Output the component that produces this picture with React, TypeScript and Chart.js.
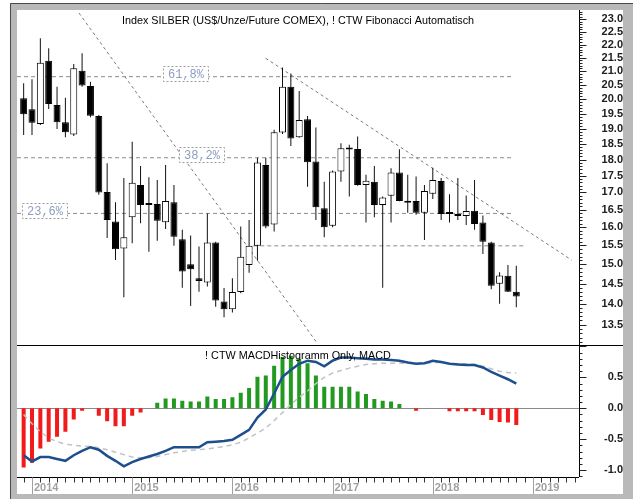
import { useEffect, useRef } from 'react';
import { Chart, registerables } from 'chart.js';

Chart.register(...registerables);

const W = 633;
const H = 499;
const FONT = "'Liberation Sans', Arial, sans-serif";

// month index of first candle (Jan 2014 = 0, so Dec 2013 = -1)
const firstMonth = -1;

const openP = [20.03, 19.65, 19.15, 21.39, 19.8, 19.21, 18.81, 21.02, 20.47, 19.42, 17.01, 16.16, 15.42, 16.28, 17.22, 16.68, 16.66, 16.14, 16.71, 15.67, 15.0, 14.64, 14.53, 15.58, 14.06, 13.87, 14.29, 14.98, 15.49, 17.83, 16.08, 18.87, 20.44, 18.72, 19.31, 17.94, 16.54, 16.04, 17.63, 18.34, 18.34, 17.22, 17.32, 16.63, 16.9, 17.6, 16.75, 16.75, 16.41, 16.96, 17.34, 16.4, 16.37, 16.32, 16.47, 16.13, 15.58, 14.5, 14.7, 14.3];
const highP = [20.56, 20.71, 22.24, 21.86, 20.44, 20.05, 21.27, 21.67, 20.62, 19.46, 17.89, 16.71, 17.43, 18.57, 17.8, 17.46, 17.37, 17.83, 17.22, 15.93, 15.77, 15.47, 16.39, 15.6, 14.39, 14.64, 16.02, 16.2, 18.06, 18.06, 18.96, 21.14, 20.92, 20.29, 19.42, 19.04, 17.32, 17.66, 18.52, 18.47, 18.74, 17.53, 17.8, 16.88, 17.73, 18.33, 17.53, 17.48, 17.22, 17.75, 17.43, 16.95, 17.43, 16.91, 17.37, 16.33, 15.6, 14.79, 14.98, 14.96];
const lowP = [18.79, 18.79, 19.12, 19.66, 18.99, 18.72, 18.76, 20.44, 19.38, 16.93, 15.7, 15.11, 14.16, 15.56, 16.11, 15.33, 15.63, 15.95, 15.49, 14.4, 13.95, 14.3, 14.43, 13.93, 13.68, 13.79, 14.26, 14.78, 15.09, 15.97, 15.88, 18.82, 18.43, 18.7, 17.17, 16.2, 15.72, 16.0, 17.32, 16.88, 17.2, 16.13, 16.28, 14.4, 16.13, 16.74, 16.41, 16.35, 15.65, 16.81, 16.2, 16.13, 16.2, 16.06, 15.93, 15.27, 14.36, 14.0, 14.29, 13.92];
const closeP = [19.48, 19.2, 21.31, 19.83, 19.21, 18.88, 21.11, 20.48, 19.43, 17.0, 16.2, 15.4, 15.72, 17.29, 16.63, 16.63, 16.18, 16.75, 15.74, 14.81, 14.87, 14.57, 15.58, 14.08, 13.87, 14.29, 15.2, 15.49, 17.91, 16.02, 18.88, 20.44, 18.68, 19.29, 17.92, 16.57, 16.0, 17.63, 18.36, 18.32, 17.22, 17.35, 16.63, 16.85, 17.6, 16.75, 16.7, 16.41, 17.04, 17.37, 16.37, 16.37, 16.32, 16.46, 16.09, 15.6, 14.45, 14.71, 14.3, 14.18];

const macdHist = [-0.96, -0.88, -0.65, -0.54, -0.46, -0.38, -0.18, -0.04, 0, -0.12, -0.21, -0.29, -0.29, -0.12, -0.07, 0, 0.09, 0.16, 0.16, 0.12, 0.11, 0.11, 0.19, 0.15, 0.15, 0.18, 0.25, 0.33, 0.51, 0.53, 0.69, 0.83, 0.85, 0.8, 0.73, 0.53, 0.35, 0.35, 0.35, 0.35, 0.27, 0.23, 0.15, 0.12, 0.11, 0.07, 0, -0.04, 0, 0, 0, -0.05, -0.05, -0.05, -0.05, -0.11, -0.19, -0.22, -0.23, -0.27];
const macdLine = [-0.76, -0.86, -0.79, -0.79, -0.82, -0.85, -0.76, -0.69, -0.63, -0.67, -0.77, -0.85, -0.94, -0.87, -0.82, -0.78, -0.74, -0.69, -0.63, -0.63, -0.63, -0.63, -0.55, -0.54, -0.53, -0.51, -0.43, -0.35, -0.15, -0.02, 0.24, 0.51, 0.62, 0.72, 0.77, 0.75, 0.68, 0.77, 0.82, 0.82, 0.81, 0.8, 0.79, 0.79, 0.78, 0.77, 0.74, 0.72, 0.73, 0.77, 0.75, 0.72, 0.71, 0.7, 0.7, 0.66, 0.59, 0.53, 0.47, 0.4];
const macdSignal = [-0.1, -0.25, -0.38, -0.48, -0.54, -0.58, -0.6, -0.61, -0.62, -0.64, -0.67, -0.71, -0.75, -0.79, -0.8, -0.8, -0.78, -0.75, -0.72, -0.7, -0.68, -0.67, -0.66, -0.64, -0.62, -0.59, -0.55, -0.48, -0.4, -0.32, -0.2, -0.07, 0.06, 0.18, 0.28, 0.4, 0.5, 0.57, 0.61, 0.65, 0.68, 0.71, 0.72, 0.73, 0.73, 0.73, 0.73, 0.73, 0.73, 0.74, 0.74, 0.73, 0.72, 0.72, 0.71, 0.68, 0.64, 0.6, 0.58, 0.57];

const yearLabels = ['2014', '2015', '2016', '2017', '2018', '2019'];
const priceTicks = [13.5, 14.0, 14.5, 15.0, 15.5, 16.0, 16.5, 17.0, 17.5, 18.0, 18.5, 19.0, 19.5, 20.0, 20.5, 21.0, 21.5, 22.0, 22.5, 23.0];
const macdTicks = [-1.0, -0.5, 0.0, 0.5];

const fibLevels = [20.8, 18.06, 16.39];
const fibNames = ['61,8%', '38,2%', '23,6%'];
const fibEndMonth = 57.5;
const supportLevel = 15.49;
const supportRange = [26.5, 59.0];
// trend lines: [month, price] pairs
const trendA = [[5.63, 23.24], [34.13, 13.08]];
const trendB = [[27.98, 21.48], [64.63, 15.11]];

const titleMain = 'Index SILBER (US$/Unze/Future COMEX), ! CTW Fibonacci Automatisch';
const titleMacd = '! CTW MACDHistogramm Only, MACD';

const X_MIN = -1.796;
const X_MAX = 65.51;
// label-box anchors (month units) for the fibonacci tags
const fibLabelMonth = [15.72, 17.6, -1.14];

const decor = {
  id: 'decor',
  beforeDraw(chart: any) {
    const { ctx, chartArea: a } = chart;
    ctx.save();
    ctx.fillStyle = '#ffffff';
    ctx.fillRect(0, 0, W, H);
    ctx.fillStyle = '#b9b9b9';
    ctx.fillRect(10, 3, W - 10, H - 3);
    ctx.fillStyle = '#ffffff';
    ctx.fillRect(a.left, a.top, a.right + 44 - a.left, 494 - a.top);
    ctx.strokeStyle = '#4a4a4a';
    ctx.lineWidth = 1;
    ctx.beginPath();
    ctx.moveTo(10.5, H);
    ctx.lineTo(10.5, 3.5);
    ctx.lineTo(W, 3.5);
    ctx.stroke();
    ctx.restore();
  },
  beforeDatasetsDraw(chart: any) {
    const { ctx, chartArea: a, scales } = chart;
    const y2 = scales.y2;
    const zy = Math.round(y2.getPixelForValue(0)) + 0.5;
    ctx.save();
    ctx.strokeStyle = '#8a8a8a';
    ctx.lineWidth = 1;
    ctx.beginPath();
    ctx.moveTo(a.left, zy);
    ctx.lineTo(a.right, zy);
    ctx.stroke();
    ctx.restore();
  },
  afterDatasetsDraw(chart: any) {
    const { ctx, scales } = chart;
    const x = scales.x, y = scales.y;
    ctx.save();
    fibLevels.forEach((lv, i) => {
      const py = y.getPixelForValue(lv);
      const px = x.getPixelForValue(fibLabelMonth[i]);
      const bx = Math.round(px) + 0.5;
      const by = Math.round(py - 10.5) + 0.5;
      const bw = 45, bh = 15;
      ctx.fillStyle = '#ffffff';
      ctx.fillRect(bx, by, bw, bh);
      ctx.setLineDash([2, 2]);
      ctx.strokeStyle = '#9a9a9a';
      ctx.lineWidth = 1;
      ctx.strokeRect(bx, by, bw, bh);
      ctx.setLineDash([]);
      ctx.fillStyle = '#8d9dc0';
      ctx.font = "12px 'Liberation Mono', monospace";
      ctx.textAlign = 'center';
      ctx.textBaseline = 'middle';
      ctx.fillText(fibNames[i], bx + bw / 2, by + bh / 2 + 0.5);
    });
    ctx.restore();
  },
  afterDraw(chart: any) {
    const { ctx, chartArea: a, scales } = chart;
    const x = scales.x, y = scales.y, y2 = scales.y2;
    ctx.save();
    ctx.lineWidth = 1;
    ctx.strokeStyle = '#000000';
    const line = (x1: number, y1: number, x2: number, y2_: number) => {
      ctx.beginPath();
      ctx.moveTo(x1, y1);
      ctx.lineTo(x2, y2_);
      ctx.stroke();
    };
    const rx = Math.round(a.right) + 0.5;
    line(rx, a.top, rx, a.bottom);
    const sep = Math.floor(y.bottom) + 0.5;
    line(a.left, sep, a.right + 44, sep);
    const bx = Math.round(a.bottom) + 0.5;
    line(a.left, bx, a.right, bx);

    // price axis ticks
    ctx.strokeStyle = '#222222';
    for (let v = 131; v <= 233; v++) {
      const py = Math.round(y.getPixelForValue(v / 10)) + 0.5;
      if (py < y.top || py > y.bottom - 1) continue;
      line(rx, py, rx + (v % 5 === 0 ? 7 : 3), py);
    }
    for (let v = -11; v <= 10; v++) {
      const py = Math.round(y2.getPixelForValue(v / 10)) + 0.5;
      if (py < y2.top + 1 || py > y2.bottom) continue;
      line(rx, py, rx + (v % 5 === 0 ? 7 : 3), py);
    }
    // time axis ticks
    for (let k = -1; k <= 65; k++) {
      const px = Math.round(x.getPixelForValue(k)) + 0.5;
      if (px < a.left || px > a.right) continue;
      if (k % 12 === 0) {
        ctx.strokeStyle = '#a0a0a0';
        line(px, bx, px, 494);
      } else {
        ctx.strokeStyle = '#333333';
        line(px, bx, px, bx + 5);
      }
    }

    // titles
    ctx.fillStyle = '#000000';
    ctx.font = `10.8px ${FONT}`;
    ctx.textAlign = 'center';
    ctx.textBaseline = 'alphabetic';
    const cx = (a.left + a.right) / 2;
    ctx.fillText(titleMain, cx, y.top + 13.5);
    ctx.fillText(titleMacd, cx, y2.top + 13.5);
    ctx.restore();
  },
};

export default function App() {
  const ref = useRef<HTMLCanvasElement>(null);

  useEffect(() => {
    const xs = openP.map((_, i) => firstMonth + i);
    const bodies = openP.map((o, i) => ({ x: xs[i], y: [o, closeP[i]] }));
    const wicks = lowP.map((l, i) => ({ x: xs[i], y: [l, highP[i]] }));
    const hist = macdHist.map((v, i) => ({ x: xs[i], y: v }));
    const macd = macdLine.map((v, i) => ({ x: xs[i], y: v }));
    const sig = macdSignal.map((v, i) => ({ x: xs[i], y: v }));

    const dashed = (data: any[], color: string, dash: number[], order = 10) => ({
      type: 'line' as const,
      data,
      yAxisID: 'y',
      borderColor: color,
      borderWidth: 1,
      borderDash: dash,
      pointRadius: 0,
      tension: 0,
      order,
    });

    const datasets: any[] = [
      {
        type: 'bar',
        data: bodies,
        yAxisID: 'y',
        backgroundColor: closeP.map((c, i) => (c >= openP[i] ? '#ffffff' : '#000000')),
        borderColor: '#000000',
        borderWidth: 1,
        borderSkipped: false,
        barThickness: 7,
        minBarLength: 2,
        grouped: false,
        inflateAmount: 0,
        order: 1,
      },
      {
        type: 'bar',
        data: wicks,
        yAxisID: 'y',
        backgroundColor: '#111111',
        borderWidth: 0,
        barThickness: 1,
        grouped: false,
        inflateAmount: 0,
        order: 2,
      },
      {
        type: 'bar',
        data: hist,
        yAxisID: 'y2',
        backgroundColor: macdHist.map((v) => (v >= 0 ? '#229a22' : '#f21b1b')),
        borderWidth: 0,
        barThickness: 4,
        grouped: false,
        inflateAmount: 0,
        order: 3,
      },
      {
        type: 'line',
        data: sig,
        yAxisID: 'y2',
        borderColor: '#c2c2c2',
        borderWidth: 1.5,
        borderDash: [5, 4],
        pointRadius: 0,
        tension: 0,
        order: 0,
      },
      {
        type: 'line',
        data: macd,
        yAxisID: 'y2',
        borderColor: '#1d4f8c',
        borderWidth: 2.5,
        pointRadius: 0,
        tension: 0,
        order: -1,
      },
      ...fibLevels.map((lv) => dashed([{ x: X_MIN, y: lv }, { x: fibEndMonth, y: lv }], '#8c8c8c', [4, 3])),
      dashed([{ x: supportRange[0], y: supportLevel }, { x: supportRange[1], y: supportLevel }], '#8c8c8c', [4, 3]),
      dashed(trendA.map(([m, p]) => ({ x: m, y: p })), '#7a7a7a', [3, 3]),
      dashed(trendB.map(([m, p]) => ({ x: m, y: p })), '#7a7a7a', [3, 3]),
    ];

    const yFit = (s: any) => {
      s.width = 44;
      s.paddingTop = 0;
      s.paddingBottom = 0;
    };

    const chart = new Chart(ref.current as HTMLCanvasElement, {
      type: 'bar',
      data: { datasets },
      options: {
        responsive: false,
        devicePixelRatio: 1,
        animation: false,
        events: [],
        layout: { padding: { left: 17, top: 10, right: 10, bottom: 5 } },
        plugins: {
          legend: { display: false },
          tooltip: { enabled: false },
          title: { display: false },
        },
        scales: {
          x: {
            type: 'linear',
            position: 'bottom',
            min: X_MIN,
            max: X_MAX,
            offset: false,
            bounds: 'data',
            grid: { display: false, drawTicks: false, tickLength: 0, offset: false },
            border: { display: false },
            ticks: {
              autoSkip: false,
              maxRotation: 0,
              align: 'start',
              labelOffset: 2,
              padding: 4,
              color: '#a0a0a0',
              font: { family: FONT, size: 11, weight: 'bold' },
              callback: (_v: any, i: number) => yearLabels[i],
            },
            afterBuildTicks: (s: any) => {
              s.ticks = yearLabels.map((_, i) => ({ value: i * 12 }));
            },
            afterFit: (s: any) => {
              s.height = 17;
              s.paddingLeft = 0;
              s.paddingRight = 0;
            },
          },
          y: {
            type: 'logarithmic',
            position: 'right',
            stack: 'panels',
            stackWeight: 335.5,
            min: 13.02,
            max: 23.364,
            bounds: 'data',
            grid: { display: false, drawTicks: false, tickLength: 0 },
            border: { display: false },
            ticks: {
              autoSkip: false,
              crossAlign: 'far',
              padding: 19.6,
              color: '#202020',
              font: { family: FONT, size: 11, weight: 'bold' },
              callback: (v: any) => Number(v).toFixed(1),
            },
            afterBuildTicks: (s: any) => {
              s.ticks = priceTicks.map((v) => ({ value: v }));
            },
            afterFit: yFit,
          },
          y2: {
            type: 'linear',
            position: 'right',
            stack: 'panels',
            stackWeight: 131.5,
            min: -1.112,
            max: 1.016,
            bounds: 'data',
            grid: { display: false, drawTicks: false, tickLength: 0 },
            border: { display: false },
            ticks: {
              autoSkip: false,
              crossAlign: 'far',
              padding: 22.05,
              color: '#202020',
              font: { family: FONT, size: 11, weight: 'bold' },
              callback: (v: any) => Number(v).toFixed(1),
            },
            afterBuildTicks: (s: any) => {
              s.ticks = macdTicks.map((v) => ({ value: v }));
            },
            afterFit: yFit,
          },
        },
      } as any,
      plugins: [decor],
    });
    return () => chart.destroy();
  }, []);

  return (
    <div style={{ position: 'fixed', left: 0, top: 0, width: W, height: H }}>
      <canvas ref={ref} width={W} height={H} style={{ display: 'block', width: W, height: H }} />
    </div>
  );
}
